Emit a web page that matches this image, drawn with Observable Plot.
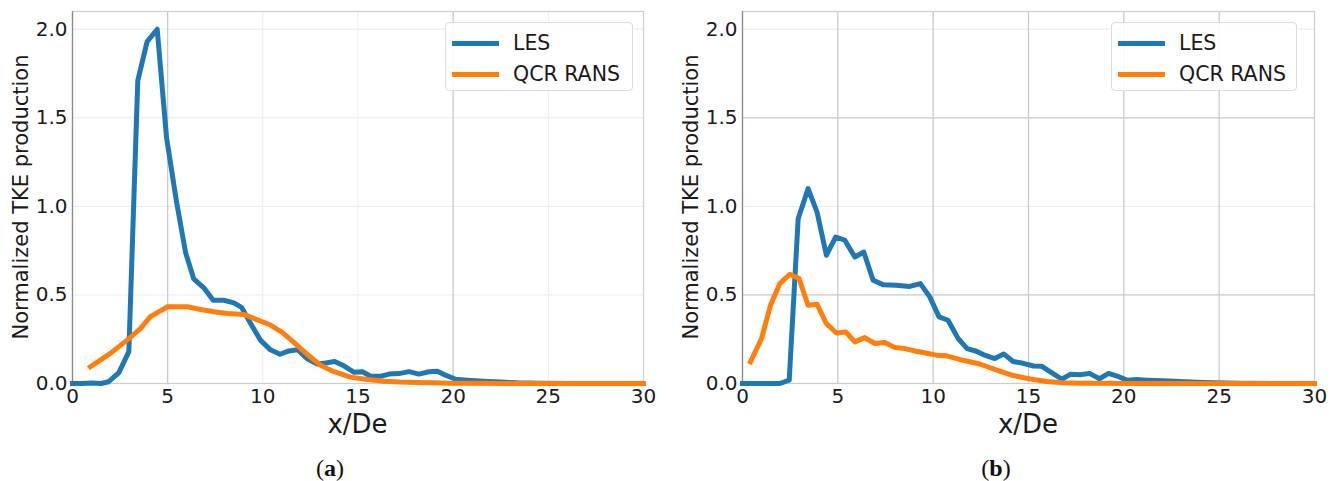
<!DOCTYPE html>
<html>
<head>
<meta charset="utf-8">
<script src="https://cdn.jsdelivr.net/npm/d3@7"></script>
<script src="https://cdn.jsdelivr.net/npm/@observablehq/plot@0.6"></script>
<style>
  html, body { margin: 0; padding: 0; background: #fff; }
  #root { position: relative; width: 1341px; height: 481px; overflow: hidden; font-family: "DejaVu Sans", sans-serif; }
  .panel { position: absolute; top: 0; }
  .panel svg { display: block; }
  .legend { position: absolute; border: 1px solid #dcdcdc; border-radius: 4px; background: rgba(255,255,255,0.85); box-sizing: border-box; padding-top: 5px; padding-left: 6px; }
  .legend .row { display: flex; align-items: center; height: 31px; }
  .legend .swatch { display: block; width: 47px; height: 0; border-top: 5px solid; flex: none; }
  .legend .lab { display: block; margin-left: 14px; font-size: 20.5px; color: #1a1a1a; line-height: 1; white-space: nowrap; }
  .xlab { position: absolute; font-size: 26px; line-height: 1; color: #1a1a1a; transform: translateX(-50%); white-space: nowrap; }
  .ylab { position: absolute; font-size: 21px; line-height: 1; color: #1a1a1a; transform: translate(-50%, -50%) rotate(-90deg); white-space: nowrap; }
  .caption { position: absolute; font-family: "Liberation Serif", serif; font-size: 24px; line-height: 1; color: #111; transform: translateX(-50%); white-space: nowrap; }
  .caption b { font-weight: bold; }
</style>
</head>
<body>
<div id="root">
  <div class="panel" id="pa" style="left:0px"></div>
  <div class="panel" id="pb" style="left:670px"></div>
</div>
<script>
// ---------- data ----------
const seriesNames = ["LES", "QCR RANS"];
const seriesColors = ["#1f77b4", "#ff7f0e"];
const panelCaptions = ["a", "b"];
const xLabel = "x/De";
const yLabel = "Normalized TKE production";

const xTicks = [0, 5, 10, 15, 20, 25, 30];
const yTicks = [0.0, 0.5, 1.0, 1.5, 2.0];

// Panel (a)
const xLesA = [0,0.5,1,1.5,1.9,2.43,2.96,3.43,3.92,4.45,4.94,5.46,5.94,6.37,6.9,7.39,7.95,8.48,8.88,9.35,9.87,10.4,10.9,11.37,11.84,12.33,12.86,13.3,13.77,14.26,14.8,15.23,15.67,16.2,16.63,17.16,17.68,18.2,18.73,19.17,19.6,20.13,20.75,21.6,22.5,23.4,24.5,26,28,30];
const yLesA = [0,0,0.003,0,0.01,0.06,0.18,1.71,1.93,2.0,1.39,1.03,0.74,0.59,0.54,0.47,0.47,0.455,0.43,0.34,0.245,0.19,0.165,0.184,0.19,0.14,0.11,0.116,0.124,0.10,0.063,0.066,0.041,0.041,0.053,0.056,0.067,0.053,0.066,0.069,0.047,0.024,0.019,0.013,0.008,0.004,0.002,0,0,0];
const xRansA = [0.94,1.99,2.87,3.57,4.09,4.62,5.0,6.03,6.73,7.43,8.13,9.0,9.87,10.4,11.0,11.6,12.33,13.03,13.7,14.6,15.5,16.37,17.2,18.1,19,19.8,21,23,25,30];
const yRansA = [0.094,0.17,0.245,0.31,0.377,0.41,0.433,0.433,0.418,0.405,0.395,0.39,0.353,0.33,0.29,0.235,0.165,0.103,0.068,0.036,0.023,0.013,0.008,0.006,0.004,0.002,0.001,0,0,0];

// Panel (b)
const xLesB = [0,0.5,1,1.5,1.96,2.45,2.92,3.44,3.91,4.4,4.89,5.36,5.89,6.36,6.85,7.37,8.07,8.77,9.33,9.82,10.31,10.78,11.31,11.78,12.27,12.7,13.23,13.7,14.19,14.72,15.26,15.7,16.23,16.75,17.19,17.71,18.2,18.72,19.2,19.64,20.16,20.68,21.2,22.07,22.95,23.8,24.7,26,28,30];
const yLesB = [0,0,0,0,0,0.019,0.93,1.10,0.968,0.724,0.827,0.81,0.714,0.742,0.583,0.558,0.554,0.548,0.564,0.489,0.376,0.357,0.254,0.197,0.182,0.16,0.141,0.167,0.124,0.114,0.099,0.097,0.06,0.024,0.052,0.049,0.057,0.027,0.057,0.042,0.019,0.022,0.019,0.015,0.011,0.007,0.004,0.002,0,0];
const xRansB = [0.42,1.0,1.47,1.96,2.48,2.97,3.44,3.91,4.4,4.93,5.42,5.89,6.41,6.94,7.46,7.99,8.51,9.12,9.73,10.17,10.7,11.57,12.44,13.34,14.2,15.09,15.96,16.8,17.7,19,21,25,30];
const yRansB = [0.122,0.254,0.442,0.564,0.617,0.592,0.442,0.447,0.338,0.285,0.291,0.235,0.259,0.226,0.231,0.203,0.197,0.182,0.169,0.16,0.156,0.131,0.11,0.076,0.045,0.025,0.011,0.004,0.002,0.001,0,0,0];

// grid lines (darker / fainter as they appear in each panel)
const gridXDarkA = [5, 20];
const gridXFaintA = [10, 15, 25];
const gridYDarkA = [];
const gridYFaintA = [0.5, 1.0, 1.5, 2.0];
const gridXDarkB = [5, 10, 15, 20, 25];
const gridXFaintB = [];
const gridYDarkB = [0.5, 1.5];
const gridYFaintB = [1.0, 2.0];

// ---------- build ----------
const zip = (xs, ys) => xs.map((x, i) => ({x, y: ys[i]}));
const H = 440, MT = 11, MB = 57;

function panel(cfg) {
  return Plot.plot({
    width: cfg.width,
    height: H,
    marginLeft: cfg.marginLeft,
    marginRight: cfg.marginRight,
    marginTop: MT,
    marginBottom: MB,
    style: {fontFamily: "DejaVu Sans, sans-serif", fontSize: "20px", color: "#1a1a1a", background: "transparent", overflow: "visible"},
    x: {domain: [0, 30], ticks: xTicks, tickSize: 0, tickPadding: 5, tickFormat: d => String(d), label: null},
    y: {domain: [0, 2.1], ticks: yTicks, tickSize: 0, tickPadding: 5, tickFormat: d3.format(".1f"), label: null},
    marks: [
      Plot.ruleX(cfg.gxf, {stroke: "#ebebeb", strokeWidth: 1}),
      Plot.ruleY(cfg.gyf, {stroke: "#ebebeb", strokeWidth: 1}),
      Plot.ruleX(cfg.gxd, {stroke: "#c8c8c8", strokeWidth: 1.2}),
      Plot.ruleY(cfg.gyd, {stroke: "#c8c8c8", strokeWidth: 1.2}),
      Plot.frame({stroke: "#cdcdcd", strokeWidth: 1.2}),
      Plot.ruleX([0], {stroke: "#8a8a8a", strokeWidth: 1.3}),
      Plot.line(cfg.les, {x: "x", y: "y", stroke: seriesColors[0], strokeWidth: 5, strokeLinejoin: "round", strokeLinecap: "square"}),
      Plot.line(cfg.rans, {x: "x", y: "y", stroke: seriesColors[1], strokeWidth: 5, strokeLinejoin: "round", strokeLinecap: "square"})
    ]
  });
}

function legend(parent, left, top, w, h) {
  const box = document.createElement("div");
  box.className = "legend";
  Object.assign(box.style, {left: left + "px", top: top + "px", width: w + "px", height: h + "px"});
  seriesNames.forEach((name, i) => {
    const row = document.createElement("div");
    row.className = "row";
    const sw = document.createElement("div");
    sw.className = "swatch";
    sw.style.borderTopColor = seriesColors[i];
    const lab = document.createElement("div");
    lab.className = "lab";
    lab.textContent = name;
    row.appendChild(sw);
    row.appendChild(lab);
    box.appendChild(row);
  });
  parent.appendChild(box);
}

function addText(parent, cls, html, left, top) {
  const d = document.createElement("div");
  d.className = cls;
  d.style.left = left + "px";
  d.style.top = top + "px";
  d.innerHTML = html;
  parent.appendChild(d);
}

const pa = document.getElementById("pa");
const pb = document.getElementById("pb");

const cfgA = {width: 660, marginLeft: 72, marginRight: 17, les: zip(xLesA, yLesA), rans: zip(xRansA, yRansA), gxd: gridXDarkA, gxf: gridXFaintA, gyd: gridYDarkA, gyf: gridYFaintA};
const cfgB = {width: 671, marginLeft: 72, marginRight: 27, les: zip(xLesB, yLesB), rans: zip(xRansB, yRansB), gxd: gridXDarkB, gxf: gridXFaintB, gyd: gridYDarkB, gyf: gridYFaintB};

[[pa, cfgA, 445, 188, 330, panelCaptions[0]], [pb, cfgB, 441, 186, 326, panelCaptions[1]]].forEach(([el, cfg, lgLeft, lgW, capX, cap]) => {
  el.appendChild(panel(cfg));
  const cx = cfg.marginLeft + (cfg.width - cfg.marginLeft - cfg.marginRight) / 2;
  const cy = MT + (H - MT - MB) / 2;
  addText(el, "xlab", xLabel, cx, 411);
  addText(el, "ylab", yLabel, 21, cy);
  legend(el, lgLeft, 22, lgW, 69);
  addText(el, "caption", "(<b>" + cap + "</b>)", capX, 456);
});
</script>
</body>
</html>
